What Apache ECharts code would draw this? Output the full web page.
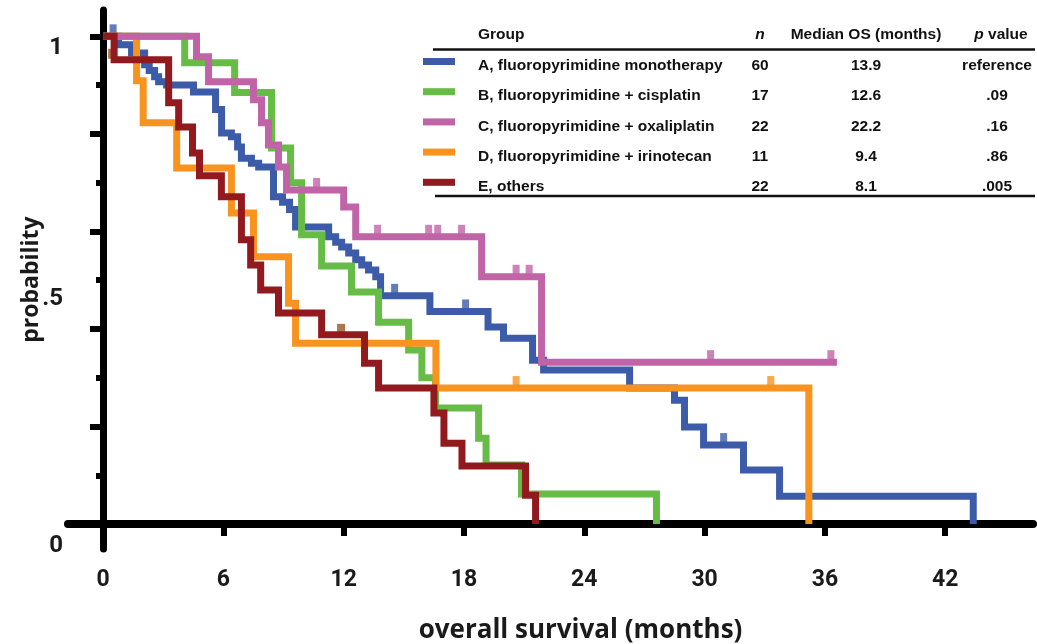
<!DOCTYPE html>
<html><head><meta charset="utf-8">
<script src="https://cdn.jsdelivr.net/npm/echarts@6/dist/echarts.min.js"></script>
<style>html,body{margin:0;padding:0;background:#fff}#c{width:1037px;height:644px}</style>
</head><body><div id="c"></div>
<script>
// ---------- data ----------
const groups = ['A, fluoropyrimidine monotherapy', 'B, fluoropyrimidine + cisplatin', 'C, fluoropyrimidine + oxaliplatin', 'D, fluoropyrimidine + irinotecan', 'E, others'];
const nValues = ['60', '17', '22', '11', '22'];
const medianOS = ['13.9', '12.6', '22.2', '9.4', '8.1'];
const pValues = ['reference', '.09', '.16', '.86', '.005'];
const xTickValues = [0, 6, 12, 18, 24, 30, 36, 42];
const yLabelValues = [0, 0.5, 1];
const yLabelTexts = ['0', '.5', '1'];

// A, fluoropyrimidine monotherapy
const timesA = [0, 0.77, 1.42, 2.07, 2.3, 2.57, 2.77, 3.17, 4.51, 5.61, 5.91, 6.4, 6.71, 6.9, 7.4, 7.76, 8.5, 8.95, 9.3, 9.6, 11.25, 11.6, 11.9, 12.25, 12.6, 12.9, 13.24, 13.6, 13.84, 16.3, 19.2, 19.97, 21.42, 21.97, 26.26, 28.5, 29.0, 29.95, 31.94, 33.74, 43.4];
const survA = [1, 0.983, 0.966, 0.942, 0.93, 0.917, 0.907, 0.9, 0.886, 0.85, 0.802, 0.794, 0.773, 0.75, 0.74, 0.732, 0.671, 0.66, 0.645, 0.609, 0.589, 0.578, 0.568, 0.556, 0.542, 0.531, 0.521, 0.507, 0.468, 0.436, 0.404, 0.381, 0.336, 0.316, 0.279, 0.254, 0.199, 0.162, 0.111, 0.057, 0];
const censorTimesA = [0.5, 14.54, 18.08, 30.95];
const censorSurvA = [1, 0.468, 0.436, 0.162];

// B, fluoropyrimidine + cisplatin
const timesB = [0, 4.07, 6.56, 8.4, 9.35, 9.9, 10.9, 12.39, 13.74, 15.24, 15.9, 16.58, 18.73, 19.1, 20.87, 27.6];
const survB = [1, 0.946, 0.885, 0.771, 0.70, 0.593, 0.529, 0.476, 0.414, 0.357, 0.30, 0.238, 0.176, 0.121, 0.062, 0];

// C, fluoropyrimidine + oxaliplatin
const timesC = [0, 4.66, 5.26, 7.5, 7.9, 8.25, 8.75, 9.15, 12.0, 12.6, 18.88, 21.87, 36.6];
const survC = [1, 0.958, 0.907, 0.87, 0.823, 0.777, 0.732, 0.685, 0.65, 0.589, 0.507, 0.332, 0.332];
const censorTimesC = [10.65, 13.69, 16.24, 16.69, 17.88, 20.6, 21.25, 30.3, 36.3];
const censorSurvC = [0.685, 0.589, 0.589, 0.589, 0.589, 0.507, 0.507, 0.332, 0.332];

// D, fluoropyrimidine + irinotecan
const timesD = [0, 1.67, 2.0, 3.67, 6.4, 7.5, 9.25, 9.6, 16.6, 35.2];
const survD = [1, 0.909, 0.823, 0.73, 0.638, 0.548, 0.453, 0.371, 0.279, 0];
const censorTimesD = [20.6, 33.3];
const censorSurvD = [0.279, 0.279];

// E, others
const timesE = [0, 0.55, 3.27, 3.77, 4.46, 4.81, 5.9, 6.9, 7.36, 7.86, 8.75, 10.9, 13.04, 13.74, 16.5, 17.0, 17.9, 21.07, 21.57];
const survE = [1, 0.952, 0.864, 0.814, 0.761, 0.714, 0.671, 0.583, 0.531, 0.48, 0.433, 0.388, 0.33, 0.279, 0.228, 0.166, 0.119, 0.059, 0];
const censorTimesE = [0.45, 11.87];
const censorSurvE = [0.952, 0.388];

// ---------- styles ----------
const colors = ['#3C5BA9', '#67BB47', '#C063A7', '#F7931E', '#921A1E'];
const censorColorE = '#9A5524';
const axisFont = "Roboto, 'Liberation Sans', sans-serif";
const nameFont = "'Open Sans', Roboto, sans-serif";
const tableFont = "'Liberation Sans', Arial, sans-serif";

const pairs = (t, s) => t.map((v, i) => [v, s[i]]);

function kmLine(name, t, s, color) {
  return {
    type: 'line', name: name, step: 'end', data: pairs(t, s),
    symbol: 'none', showSymbol: false, silent: true,
    lineStyle: { color: color, width: 7, cap: 'butt', join: 'miter' }
  };
}
function censors(name, t, s, color, size, offset) {
  return {
    type: 'scatter', name: name, data: pairs(t, s), silent: true,
    symbol: 'rect', symbolSize: size, symbolOffset: [0, offset],
    itemStyle: { color: color }
  };
}

const X0 = -1.75, X1 = 46.38, Y0 = -0.051, Y1 = 1.054;

const chart = echarts.init(document.getElementById('c'), null, { renderer: 'canvas' });

// ---------- legend table (graphic) ----------
const colN = 760, colMed = 866, colP = 997, colGroup = 478;
const headerY = 35, rowY0 = 66, rowStep = 30.2;
const tSize = 15.5;
const g = [];
const txt = (x, y, text, align, extra) => ({
  type: 'text', x: x, y: y, silent: true,
  style: Object.assign({ text: text, align: align, verticalAlign: 'middle',
    fontFamily: tableFont, fontWeight: 'bold', fontSize: tSize, fill: '#111' }, extra || {})
});
g.push(txt(colGroup, headerY, 'Group', 'left'));
g.push(txt(colN, headerY, 'n', 'center', { fontStyle: 'italic' }));
g.push(txt(colMed, headerY, 'Median OS (months)', 'center'));
g.push({
  type: 'text', x: colP + 4, y: headerY, silent: true,
  style: { text: '{i|p} value', align: 'center', verticalAlign: 'middle', fontFamily: tableFont, fontWeight: 'bold', fontSize: tSize, fill: '#111',
    rich: { i: { fontStyle: 'italic', fontFamily: tableFont, fontWeight: 'bold', fontSize: tSize, fill: '#111' } } }
});
g.push({ type: 'line', silent: true, shape: { x1: 433, y1: 49.5, x2: 1035, y2: 49.5 }, style: { stroke: '#111', lineWidth: 2.5 } });
g.push({ type: 'line', silent: true, shape: { x1: 435, y1: 196, x2: 1035, y2: 196 }, style: { stroke: '#111', lineWidth: 2.5 } });
groups.forEach((name, i) => {
  const y = rowY0 + i * rowStep;
  g.push({ type: 'rect', silent: true, shape: { x: 423, y: y - 8, width: 32, height: 7 }, style: { fill: colors[i] } });
  g.push(txt(colGroup, y, name, 'left'));
  g.push(txt(colN, y, nValues[i], 'center'));
  g.push(txt(colMed, y, medianOS[i], 'center'));
  g.push(txt(colP, y, pValues[i], 'center'));
});

const yLabStyle = { fontSize: 24, fontWeight: 'bold', fontFamily: axisFont, color: '#1a1a1a' };

const option = {
  animation: false,
  backgroundColor: '#fff',
  grid: { left: 68, top: 10, width: 965, height: 539, containLabel: false, outerBoundsMode: 'none' },
  xAxis: {
    type: 'value', min: X0, max: X1, position: 'bottom', offset: -25,
    axisLine: { onZero: false, lineStyle: { color: '#000', width: 8 } },
    axisTick: { show: true, customValues: [6, 12, 18, 24, 30, 36, 42], length: 12, lineStyle: { color: '#000', width: 6 } },
    axisLabel: { customValues: xTickValues, margin: 45, fontSize: 23, fontWeight: 'bold', fontFamily: axisFont, color: '#1a1a1a' },
    splitLine: { show: false },
    name: 'overall survival (months)', nameLocation: 'middle', nameGap: 94, nameMoveOverlap: false,
    nameTextStyle: { fontSize: 26, fontWeight: 'bold', fontFamily: nameFont, color: '#1a1a1a', padding: [0, 0, 0, 60] }
  },
  yAxis: [{
    type: 'value', min: Y0, max: Y1, position: 'left', offset: -35,
    axisLine: { onZero: false, lineStyle: { color: '#000', width: 7 } },
    axisTick: { show: true, customValues: [0.2, 0.4, 0.6, 0.8, 1], length: 13, lineStyle: { color: '#000', width: 6 } },
    axisLabel: Object.assign({
      customValues: yLabelValues, margin: 40, verticalAlign: 'top',
      formatter: v => { const i = yLabelValues.indexOf(v); return '{l' + i + '|' + yLabelTexts[i] + '}'; },
      rich: {
        l0: Object.assign({ padding: [10, 0, 0, 0] }, yLabStyle),
        l1: Object.assign({ padding: [7, 0, 0, 0] }, yLabStyle),
        l2: Object.assign({ padding: [0, 0, 0, 0] }, yLabStyle)
      }
    }, yLabStyle),
    splitLine: { show: false },
    name: 'probability', nameLocation: 'middle', nameGap: 60, nameRotate: 90, nameMoveOverlap: false,
    nameTextStyle: { fontSize: 23, fontWeight: 'bold', fontFamily: nameFont, color: '#1a1a1a' }
  }, {
    type: 'value', min: Y0, max: Y1, position: 'left', offset: -35,
    axisLine: { show: false, onZero: false },
    axisTick: { show: true, customValues: [0.1, 0.3, 0.5, 0.7, 0.9], length: 7, lineStyle: { color: '#000', width: 6 } },
    axisLabel: { show: false }, splitLine: { show: false }
  }],
  graphic: { elements: g },
  series: [
    kmLine('A', timesA, survA, colors[0]),
    censors('A censored', censorTimesA, censorSurvA, colors[0], [7, 12], -6),
    kmLine('B', timesB, survB, colors[1]),
    kmLine('D', timesD, survD, colors[3]),
    censors('D censored', censorTimesD, censorSurvD, colors[3], [7, 12], -6),
    kmLine('C', timesC, survC, colors[2]),
    censors('C censored', censorTimesC, censorSurvC, colors[2], [7, 12], -6),
    kmLine('E', timesE, survE, colors[4]),
    censors('E censored', censorTimesE, censorSurvE, censorColorE, [8, 10], -6)
  ]
};
chart.setOption(option);
</script>
</body></html>
